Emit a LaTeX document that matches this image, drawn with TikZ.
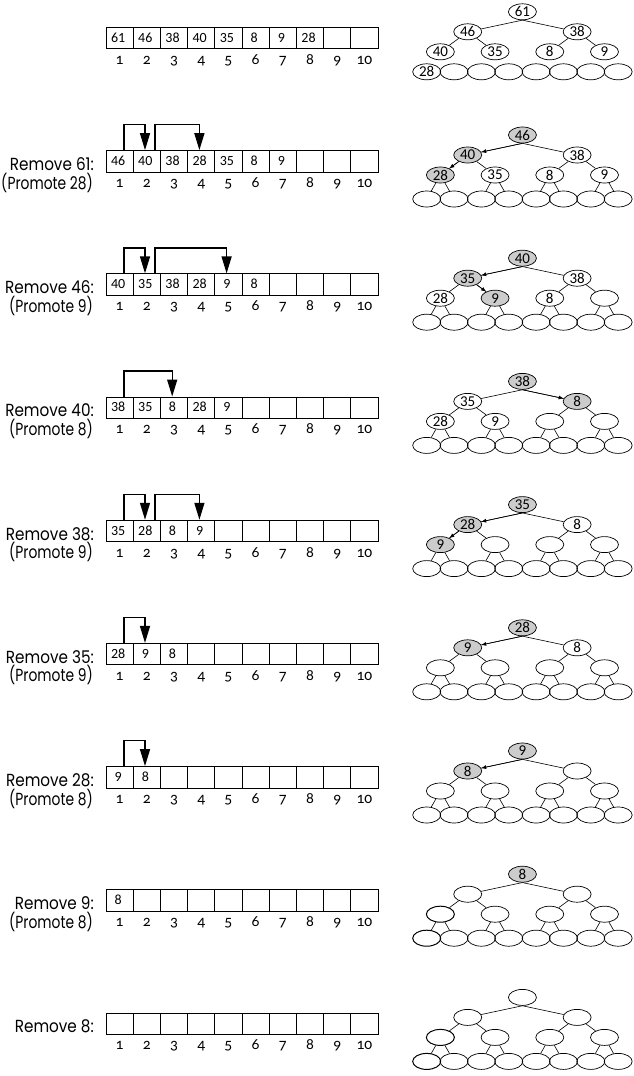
\documentclass[tikz,border=0pt]{standalone}
\usepackage{fontspec}
\setmainfont{Poppins}
\newfontfamily\numfont[Numbers=OldStyle]{Carlito}
\newfontfamily\treefont{Carlito}
\usetikzlibrary{arrows.meta,shapes.geometric}

\tikzset{
  cell/.style={draw, minimum width=27.2pt, minimum height=21.4pt, inner sep=0pt, line width=0.7pt},
  cellnum/.style={anchor=base, inner sep=0pt, font=\treefont\fontsize{14}{14}\selectfont},
  idx/.style={anchor=base, inner sep=0pt, font=\numfont\fontsize{15.5}{15.5}\selectfont},
  lbl/.style={anchor=base east, inner sep=0pt, xscale=0.87, font=\fontsize{17.5}{17.5}\selectfont},
  lblb/.style={anchor=base east, inner sep=0pt, xscale=0.79, font=\fontsize{17.5}{17.5}\selectfont},
  hw/.style={draw, ellipse, minimum width=28pt, minimum height=16pt, inner sep=0pt, line width=0.7pt,
    font=\treefont\fontsize{15}{15}\selectfont},
  hg/.style={hw, fill=black!20},
  hb/.style={hw, line width=1.0pt},
  edge/.style={line width=0.6pt},
  aedge/.style={line width=0.6pt, -{Latex[length=5pt,width=4pt]}},
  mv/.style={line width=1.4pt, -{Triangle[length=17pt,width=10pt]}},
}

% array row: #1 row index, #2 ten values
\newcommand\harray[2]{%
  \pgfmathsetmacro\T{27.3+123.2*#1}%
  \foreach \v [count=\i] in {#2} {%
    \pgfmathsetmacro\cx{106+27.2*(\i-0.5)}%
    \node[cell] (r#1c\i) at (\cx,-\T-10.7) {};
    \node[cellnum] (r#1v\i) at (\cx-1.5,-\T-15) {\v};
    \node[idx] (r#1i\i) at (\cx,-\T-37) {\i};
  }%
}
% labels: #1 row, #2 first line, #3 second line
\newcommand\hlabel[3]{%
  \pgfmathsetmacro\T{27.3+123.2*#1}%
  \node[lbl] (l#1a) at (94,-\T-20) {#2};
  \node[lblb] (l#1b) at (93,-\T-38.5) {#3};
}
% move arrow: #1 row, #2 from cell, #3 to cell, #4 start offset
\newcommand\hmove[4]{%
  \draw[mv] ([xshift=#4pt]r#1c#2.north) -- ++(0,25.5) -| ([xshift=-1.8pt]r#1c#3.north);
}
% tree: #1 row, #2 fifteen label/style pairs, #3 offset of bottom level, #4 last child with an edge
\newcommand\htree[4]{%
  \pgfmathsetmacro\R{27.3+123.2*#1-15.5}%
  \foreach \lab/\sty [count=\n] in {#2} {%
    \pgfmathtruncatemacro\lv{\n>=8 ? 3 : (\n>=4 ? 2 : (\n>=2 ? 1 : 0))}%
    \pgfmathsetmacro\xx{426.7+27.35*((\n-2^\lv+0.5)*2^(3-\lv)-0.5)}%
    \pgfmathsetmacro\yy{\lv==3 ? #3 : 20*\lv}%
    \node[\sty] (t#1n\n) at (\xx,-\R-\yy) {\lab};
  }%
  \foreach \c in {2,3} {\draw[edge] (t#1n1.south) -- (t#1n\c);}%
  \foreach \c in {4,...,#4} {\pgfmathtruncatemacro\p{\c/2}\draw[edge] (t#1n\p) -- (t#1n\c);}%
}

\begin{document}
\begin{tikzpicture}[x=1pt,y=1pt]
\useasboundingbox (0,0) rectangle (633,-1076);

% row 0
\harray{0}{61,46,38,40,35,8,9,28,{},{}}
\htree{0}{61/hw,46/hw,38/hw,40/hw,35/hw,8/hw,9/hw,28/hw,{}/hw,{}/hw,{}/hw,{}/hw,{}/hw,{}/hw,{}/hw}{60}{7}

% row 1
\harray{1}{46,40,38,28,35,8,9,{},{},{}}
\hlabel{1}{Remove 61:}{(Promote 28)}
\hmove{1}{1}{2}{4.5}
\hmove{1}{2}{4}{8.2}
\htree{1}{46/hg,40/hg,38/hw,28/hg,35/hw,8/hw,9/hw,{}/hw,{}/hw,{}/hw,{}/hw,{}/hw,{}/hw,{}/hw,{}/hw}{64}{15}
\draw[aedge] (t1n1.south) -- (t1n2);
\draw[aedge] (t1n2) -- (t1n4);

% row 2
\harray{2}{40,35,38,28,9,8,{},{},{},{}}
\hlabel{2}{Remove 46:}{(Promote 9)}
\hmove{2}{1}{2}{4.5}
\hmove{2}{2}{5}{8.2}
\htree{2}{40/hg,35/hg,38/hw,28/hw,9/hg,8/hw,{}/hw,{}/hw,{}/hw,{}/hw,{}/hw,{}/hw,{}/hw,{}/hw,{}/hw}{64}{15}
\draw[aedge] (t2n1.south) -- (t2n2);
\draw[aedge] (t2n2) -- (t2n5);

% row 3
\harray{3}{38,35,8,28,9,{},{},{},{},{}}
\hlabel{3}{Remove 40:}{(Promote 8)}
\hmove{3}{1}{3}{4.5}
\htree{3}{38/hg,35/hw,8/hg,28/hw,9/hw,{}/hw,{}/hw,{}/hw,{}/hw,{}/hw,{}/hw,{}/hw,{}/hw,{}/hw,{}/hw}{64}{15}
\draw[aedge] (t3n1.south) -- (t3n3);

% row 4
\harray{4}{35,28,8,9,{},{},{},{},{},{}}
\hlabel{4}{Remove 38:}{(Promote 9)}
\hmove{4}{1}{2}{4.5}
\hmove{4}{2}{4}{8.2}
\htree{4}{35/hg,28/hg,8/hw,9/hg,{}/hw,{}/hw,{}/hw,{}/hw,{}/hw,{}/hw,{}/hw,{}/hw,{}/hw,{}/hw,{}/hw}{64}{15}
\draw[aedge] (t4n1.south) -- (t4n2);
\draw[aedge] (t4n2) -- (t4n4);

% row 5
\harray{5}{28,9,8,{},{},{},{},{},{},{}}
\hlabel{5}{Remove 35:}{(Promote 9)}
\hmove{5}{1}{2}{4.5}
\htree{5}{28/hg,9/hg,8/hw,{}/hw,{}/hw,{}/hw,{}/hw,{}/hw,{}/hw,{}/hw,{}/hw,{}/hw,{}/hw,{}/hw,{}/hw}{64}{15}
\draw[aedge] (t5n1.south) -- (t5n2);

% row 6
\harray{6}{9,8,{},{},{},{},{},{},{},{}}
\hlabel{6}{Remove 28:}{(Promote 8)}
\hmove{6}{1}{2}{4.5}
\htree{6}{9/hg,8/hg,{}/hw,{}/hw,{}/hw,{}/hw,{}/hw,{}/hw,{}/hw,{}/hw,{}/hw,{}/hw,{}/hw,{}/hw,{}/hw}{64}{15}
\draw[aedge] (t6n1.south) -- (t6n2);

% row 7
\harray{7}{8,{},{},{},{},{},{},{},{},{}}
\hlabel{7}{Remove 9:}{(Promote 8)}
\htree{7}{8/hg,{}/hw,{}/hw,{}/hb,{}/hw,{}/hw,{}/hw,{}/hb,{}/hw,{}/hw,{}/hw,{}/hw,{}/hw,{}/hw,{}/hw}{64}{15}

% row 8
\harray{8}{{},{},{},{},{},{},{},{},{},{}}
\pgfmathsetmacro\T{27.3+123.2*8}
\node[lbl] (l8a) at (94,-\T-20) {Remove 8:};
\htree{8}{{}/hw,{}/hw,{}/hw,{}/hb,{}/hw,{}/hw,{}/hw,{}/hb,{}/hw,{}/hw,{}/hw,{}/hw,{}/hw,{}/hw,{}/hw}{64}{15}
\end{tikzpicture}
\end{document}
